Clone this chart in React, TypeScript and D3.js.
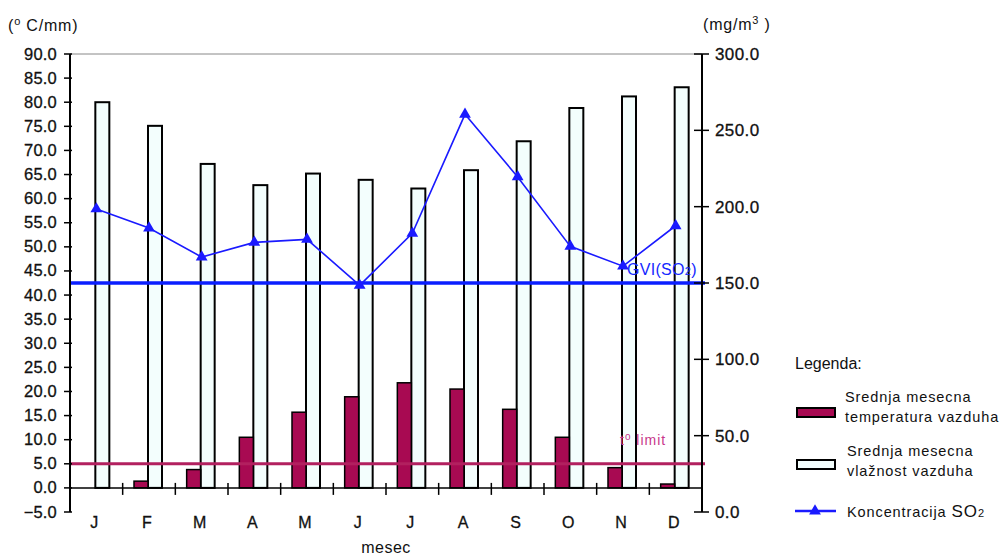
import React from 'react';
import * as d3 from 'd3';

// Monthly data
const months = ['J', 'F', 'M', 'A', 'M', 'J', 'J', 'A', 'S', 'O', 'N', 'D'];
const temperature = [0, 1.4, 3.8, 10.5, 15.7, 18.9, 21.8, 20.5, 16.3, 10.5, 4.2, 0.8];
const humidity = [80.0, 75.1, 67.2, 62.8, 65.2, 63.9, 62.1, 65.9, 71.9, 78.8, 81.2, 83.1];
const so2 = [198.5, 186, 167, 176.6, 178.6, 148.5, 182.5, 260.5, 219.5, 174, 161, 187.5];

const leftTicks = d3.range(-5, 90.01, 5);
const rightTicks = d3.range(0, 300.01, 50);
const gviLimit = 150;
const tempLimit = 5;

const FONT = 'Arial, "Liberation Sans", sans-serif';

const App = () => {
  const w = 1003;
  const h = 555;
  const left = 70;
  const right = 702;
  const top = 54;
  const bottom = 512;

  // scales
  const x = d3.scaleBand<number>().domain(d3.range(months.length)).range([left, right]).padding(0);
  const yL = d3.scaleLinear().domain([-5, 90]).range([bottom, top]);
  const yR = d3.scaleLinear().domain([0, 300]).range([bottom, top]);
  const cx = (i: number) => (x(i) as number) + x.bandwidth() / 2;
  const barW = 14;

  const line = d3
    .line<number>()
    .x((d, i) => cx(i))
    .y((d) => yR(d));

  const tri = d3.symbol().type(d3.symbolTriangle).size(60)();

  return (
    <svg width={w} height={h} style={{ position: 'absolute', left: 0, top: 0, background: '#fff' }} fontFamily={FONT}>
      {/* axis titles */}
      <text x={8} y={31} fontSize={16} fill="#111" letterSpacing={0.8}>
        (<tspan fontSize={11} dy={-6}>o</tspan>
        <tspan dy={6}> C/mm)</tspan>
      </text>
      <text x={703} y={30} fontSize={16} fill="#111" letterSpacing={0.8}>
        (mg/m<tspan fontSize={11} dy={-6}>3</tspan>
        <tspan dy={6}> )</tspan>
      </text>

      {/* top frame line */}
      <line x1={left} x2={right} y1={top} y2={top} stroke="#888" strokeWidth={1} />

      {/* humidity bars */}
      {humidity.map((v, i) => (
        <rect
          key={'h' + i}
          x={cx(i) - 1}
          y={yL(v)}
          width={barW}
          height={yL(0) - yL(v)}
          fill="#f3fefd"
          stroke="#000"
          strokeWidth={2}
        />
      ))}

      {/* temperature bars */}
      {temperature.map((v, i) =>
        v > 0 ? (
          <rect
            key={'t' + i}
            x={cx(i) - 1 - barW}
            y={yL(v)}
            width={barW}
            height={yL(0) - yL(v)}
            fill="#a80a52"
            stroke="#000"
            strokeWidth={1.5}
          />
        ) : null
      )}

      {/* limit lines */}
      <line x1={left} x2={right + 3} y1={yR(gviLimit)} y2={yR(gviLimit)} stroke="#0a1eff" strokeWidth={3.5} />
      <line x1={left} x2={right + 3} y1={yL(tempLimit)} y2={yL(tempLimit)} stroke="#b2205f" strokeWidth={3} />
      <text x={627} y={275} fontSize={16} fill="#1428ff" letterSpacing={0.3}>
        GVI(SO<tspan fontSize={11}>2</tspan>)
      </text>
      <text x={620} y={445} fontSize={14} fill="#c8378a" letterSpacing={1}>
        t<tspan fontSize={10} dy={-5}>o</tspan>
        <tspan dy={5}> limit</tspan>
      </text>

      {/* SO2 line */}
      <path d={line(so2) as string} fill="none" stroke="#1a1aff" strokeWidth={1.6} />
      {so2.map((v, i) => (
        <path key={'p' + i} d={tri as string} transform={`translate(${cx(i)},${yR(v)})`} fill="#1a1aff" />
      ))}

      {/* x axis at zero */}
      <line x1={left} x2={right} y1={yL(0)} y2={yL(0)} stroke="#000" strokeWidth={1.5} />
      {d3.range(1, months.length).map((i) => (
        <line key={'xt' + i} x1={x(i)} x2={x(i)} y1={yL(0) - 5} y2={yL(0) + 7} stroke="#000" strokeWidth={1.5} />
      ))}
      {months.map((m, i) => (
        <text key={'m' + i} x={cx(i) - 2} y={528} fontSize={16} textAnchor="middle" fill="#111" stroke="#111" strokeWidth={0.3}>
          {m}
        </text>
      ))}
      <text x={(left + right) / 2} y={553} fontSize={16} textAnchor="middle" fill="#111" letterSpacing={0.5}>
        mesec
      </text>

      {/* left axis */}
      <line x1={left} x2={left} y1={top} y2={bottom} stroke="#000" strokeWidth={2} />
      {leftTicks.map((t) => (
        <g key={'l' + t}>
          <line x1={left - 6} x2={left + 2} y1={yL(t)} y2={yL(t)} stroke="#000" strokeWidth={1.5} />
          <text x={57} y={yL(t) + 5.5} fontSize={16.5} textAnchor="end" fill="#111" stroke="#111" strokeWidth={0.3} letterSpacing={0.2}>
            {d3.format('.1f')(t)}
          </text>
        </g>
      ))}

      {/* right axis */}
      <line x1={right} x2={right} y1={top} y2={bottom} stroke="#000" strokeWidth={2} />
      {rightTicks.map((t) => (
        <g key={'r' + t}>
          <line x1={right - 8} x2={right + 7} y1={yR(t)} y2={yR(t)} stroke="#000" strokeWidth={1.5} />
          <text x={715} y={yR(t) + 6} fontSize={17} fill="#111" stroke="#111" strokeWidth={0.3} letterSpacing={0.4}>
            {d3.format('.1f')(t)}
          </text>
        </g>
      ))}

      {/* legend */}
      <text x={795} y={369} fontSize={16} fill="#111">Legenda:</text>

      <rect x={797} y={408} width={38} height={9} fill="#a80a52" stroke="#000" strokeWidth={2} />
      <text x={845} y={402} fontSize={14.5} fill="#111" letterSpacing={0.9}>Srednja mesecna</text>
      <text x={845} y={422} fontSize={14.5} fill="#111" letterSpacing={0.9}>temperatura vazduha</text>

      <rect x={797} y={460} width={38} height={9} fill="#f3fefd" stroke="#000" strokeWidth={2} />
      <text x={847} y={456} fontSize={14.5} fill="#111" letterSpacing={0.9}>Srednja mesecna</text>
      <text x={847} y={476} fontSize={14.5} fill="#111" letterSpacing={0.9}>vlažnost vazduha</text>

      <line x1={795} x2={836} y1={511} y2={511} stroke="#1a1aff" strokeWidth={2.5} />
      <path d={tri as string} transform="translate(815,511)" fill="#1a1aff" />
      <text x={847} y={517} fontSize={14.5} fill="#111" letterSpacing={0.9}>
        Koncentracija <tspan fontSize={17}>SO</tspan>
        <tspan fontSize={11}>2</tspan>
      </text>
    </svg>
  );
};

export default App;
